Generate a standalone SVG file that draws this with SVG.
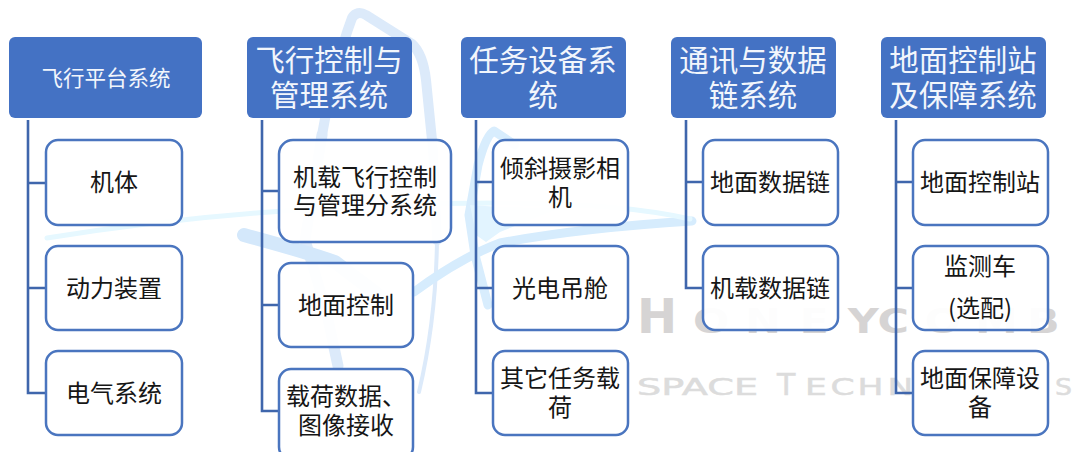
<svg xmlns="http://www.w3.org/2000/svg" width="1073" height="452" viewBox="0 0 1073 452">
<style>
text{font-family:"Noto Sans CJK SC","Noto Sans",sans-serif;text-anchor:middle}
.h{fill:#4472c4}
.ht{fill:#f2f6fc;font-size:29.5px}
.c{fill:#fff;fill-opacity:.94;stroke:#4a75bf;stroke-width:2.5}
.ct{fill:#161616;font-size:24px}
.l{fill:none;stroke:#3f66ac;stroke-width:2.6}
.w{fill:none;stroke:#dceafa;stroke-linecap:round;stroke-linejoin:round}
.wm{fill:#d6d4d4;font-family:"DejaVu Sans",sans-serif;font-weight:700;text-anchor:start}
.wn{fill:#dcdcdc;stroke:#dcdcdc;stroke-width:.5;font-family:"DejaVu Sans",sans-serif;text-anchor:start}
</style>
<rect width="1073" height="452" fill="#fff"/>
<g id="watermark">
<path class="w" stroke-width="10" d="M322 135C330 90 342 45 352 18Q357 10 366 15L412 44Q423 54 426 80L433 150L437 240"/>
<path class="w" stroke-width="4" d="M437 240Q436 320 419 392"/>
<path class="w" stroke-width="11" d="M322 135L305 240L326 310L338 366"/>
<path class="w" stroke-width="14" d="M244 235Q300 250 335 262L385 300" style="stroke:#d4e8fb"/>
<path class="w" stroke-width="9" d="M414 292Q460 258 500 243Q580 228 692 221" style="stroke:#d6ecfd"/>
<path class="w" stroke-width="5" d="M47 238Q160 220 270 212Q380 203 500 203Q620 203 690 219" style="stroke:#e6f8ff"/>
<path class="w" stroke-width="9" d="M515 145L494 131Q486 135 478 165L469 215L475 255L488 305" style="stroke:#d8edfd"/>
<path fill="#e2f4ff" d="M470 205L500 207L560 208L500 232L486 242L476 235Z"/>
<text class="wm" x="637" y="333" font-size="48">H</text>
<text class="wm" transform="translate(693 333) scale(1.3 1)" font-size="33" x="0 40 82 119 142 178 217 257">ONEYCOMB</text>
<text class="wn" y="395" font-size="23" x="637" textLength="121" lengthAdjust="spacingAndGlyphs">SPACE</text>
<text class="wn" y="395" font-size="30" x="777">T</text>
<text class="wn" transform="translate(805 395) scale(1.5 1)" font-size="23" x="0 17 35 55">ECHN</text>
<text class="wn" y="395" font-size="23" x="1055" textLength="17" lengthAdjust="spacingAndGlyphs">S</text>
</g>
<g id="connectors">
<path class="l" d="M28 120V393H46M28 183H46M28 288H46"/>
<path class="l" d="M262 120V411H279M262 191H279M262 305H279"/>
<path class="l" d="M476 120V393H493M476 182H493M476 288H493"/>
<path class="l" d="M686 120V288H703M686 182H703"/>
<path class="l" d="M896 120V393H913M896 182H913M896 288H913"/>
</g>
<g id="h1"><rect class="h" x="9" y="37" width="193" height="81" rx="6"/><text class="ht" x="106" y="86" style="font-size:21.5px">飞行平台系统</text></g>
<g id="h2"><rect class="h" x="247" y="37" width="165" height="81" rx="6"/><text class="ht" x="329" y="71">飞行控制与</text><text class="ht" x="329" y="106">管理系统</text></g>
<g id="h3"><rect class="h" x="461" y="37" width="165" height="81" rx="6"/><text class="ht" x="543" y="71">任务设备系</text><text class="ht" x="543" y="106">统</text></g>
<g id="h4"><rect class="h" x="671" y="37" width="165" height="81" rx="6"/><text class="ht" x="753" y="71">通讯与数据</text><text class="ht" x="753" y="106">链系统</text></g>
<g id="h5"><rect class="h" x="881" y="37" width="165" height="81" rx="6"/><text class="ht" x="963" y="71">地面控制站</text><text class="ht" x="963" y="106">及保障系统</text></g>
<g id="n1-1"><rect class="c" x="46" y="140" width="136" height="85" rx="12"/><text class="ct" x="114" y="191">机体</text></g>
<g id="n1-2"><rect class="c" x="46" y="246" width="136" height="84" rx="12"/><text class="ct" x="114" y="297">动力装置</text></g>
<g id="n1-3"><rect class="c" x="46" y="351" width="136" height="84" rx="12"/><text class="ct" x="114" y="402">电气系统</text></g>
<g id="n2-1"><rect class="c" x="279" y="140" width="172" height="102" rx="14"/><text class="ct" x="365" y="186">机载飞行控制</text><text class="ct" x="365" y="214">与管理分系统</text></g>
<g id="n2-2"><rect class="c" x="279" y="263" width="134" height="84" rx="12"/><text class="ct" x="346" y="314">地面控制</text></g>
<g id="n2-3"><rect class="c" x="279" y="369" width="134" height="90" rx="12"/><text class="ct" x="346" y="405">载荷数据、</text><text class="ct" x="346" y="434">图像接收</text></g>
<g id="n3-1"><rect class="c" x="493" y="140" width="135" height="85" rx="12"/><text class="ct" x="560" y="177">倾斜摄影相</text><text class="ct" x="560" y="206">机</text></g>
<g id="n3-2"><rect class="c" x="493" y="246" width="135" height="84" rx="12"/><text class="ct" x="560" y="297">光电吊舱</text></g>
<g id="n3-3"><rect class="c" x="493" y="351" width="135" height="84" rx="12"/><text class="ct" x="560" y="387">其它任务载</text><text class="ct" x="560" y="416">荷</text></g>
<g id="n4-1"><rect class="c" x="703" y="140" width="135" height="85" rx="12"/><text class="ct" x="770" y="191">地面数据链</text></g>
<g id="n4-2"><rect class="c" x="703" y="246" width="135" height="84" rx="12"/><text class="ct" x="770" y="297">机载数据链</text></g>
<g id="n5-1"><rect class="c" x="913" y="140" width="135" height="85" rx="12"/><text class="ct" x="980" y="191">地面控制站</text></g>
<g id="n5-2"><rect class="c" x="913" y="246" width="135" height="84" rx="12"/><text class="ct" x="980" y="275">监测车</text><text class="ct" x="980" y="317">(选配)</text></g>
<g id="n5-3"><rect class="c" x="913" y="351" width="135" height="84" rx="12"/><text class="ct" x="980" y="387">地面保障设</text><text class="ct" x="980" y="416">备</text></g>
</svg>
